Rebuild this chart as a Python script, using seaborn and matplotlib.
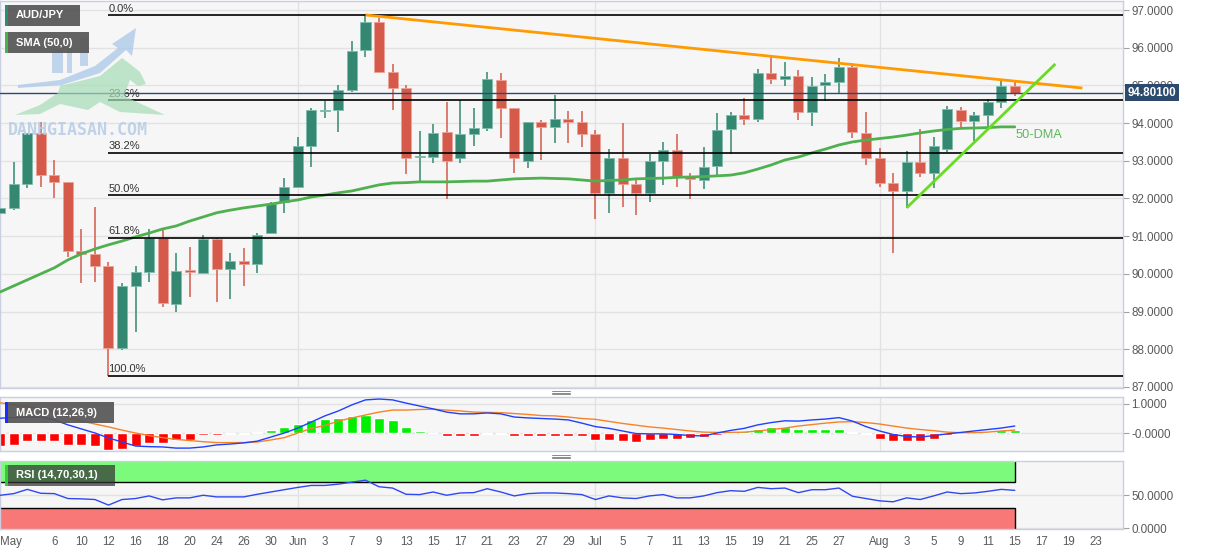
import numpy as np
import matplotlib
matplotlib.use("Agg")
import matplotlib.pyplot as plt
import seaborn as sns
from matplotlib.patches import Rectangle, Polygon
from matplotlib.lines import Line2D
import matplotlib.transforms as mtransforms

# ---------------- data ----------------
opens = [91.62, 91.75, 92.38, 93.74, 92.62, 92.44, 90.61, 90.53, 90.21, 88.03,
         89.68, 90.05, 90.95, 89.20, 90.10, 90.02, 90.93, 90.13, 90.34, 90.26,
         91.08, 91.91, 92.31, 93.39, 94.33, 94.35, 94.88, 95.94, 96.68, 95.36,
         94.93, 93.09, 93.10, 93.76, 93.07, 93.71, 93.87, 95.14, 94.40, 92.99,
         94.03, 93.90, 94.11, 94.03, 93.71, 92.15, 93.07, 92.38, 92.15, 92.99,
         93.29, 92.60, 92.49, 92.86, 93.84, 94.21, 94.11, 95.33, 95.17, 95.25,
         94.29, 95.01, 95.09, 95.49, 93.74, 93.07, 92.41, 92.20, 92.97, 92.68,
         93.31, 94.35, 94.06, 94.21, 94.56, 94.98]
closes = [91.75, 92.38, 93.74, 92.62, 92.44, 90.61, 90.53, 90.21, 88.03, 89.68,
          90.05, 90.95, 89.23, 90.08, 90.05, 90.93, 90.13, 90.34, 90.26, 91.03,
          91.85, 92.31, 93.39, 94.35, 94.36, 94.88, 95.91, 96.68, 95.36, 94.93,
          93.07, 93.11, 93.74, 92.99, 93.71, 93.87, 95.17, 94.40, 93.07, 94.03,
          93.90, 94.11, 94.03, 93.71, 92.15, 93.07, 92.38, 92.15, 92.99, 93.29,
          92.57, 92.52, 92.84, 93.82, 94.21, 94.11, 95.33, 95.17, 95.25, 94.29,
          94.98, 95.09, 95.49, 93.76, 93.07, 92.41, 92.20, 92.97, 92.68, 93.39,
          94.37, 94.06, 94.21, 94.56, 94.98, 94.80]
highs = [91.96, 92.97, 93.74, 94.03, 93.02, 92.44, 91.19, 91.77, 90.32, 89.76,
         90.21, 91.19, 91.19, 90.55, 90.71, 91.03, 90.95, 90.55, 90.69, 91.08,
         91.91, 92.54, 93.63, 94.40, 94.59, 95.01, 96.18, 96.89, 96.79, 95.57,
         95.01, 93.79, 93.98, 94.56, 94.61, 94.40, 95.36, 95.33, 94.40, 94.03,
         94.08, 94.75, 94.32, 94.32, 93.82, 93.31, 94.00, 92.54, 93.18, 93.50,
         93.71, 92.68, 93.37, 94.27, 94.29, 94.67, 95.43, 95.78, 95.62, 95.41,
         95.22, 95.30, 95.73, 95.59, 94.29, 93.34, 92.68, 93.26, 93.84, 93.63,
         94.45, 94.43, 94.29, 94.64, 95.14, 95.09]
lows = [91.56, 91.69, 92.28, 92.31, 92.01, 90.45, 89.76, 89.79, 87.30, 87.98,
        88.46, 89.79, 89.12, 88.99, 89.39, 90.02, 89.25, 89.33, 89.68, 90.02,
        91.08, 91.62, 92.31, 92.84, 94.14, 93.76, 94.82, 95.75, 95.33, 94.35,
        92.65, 92.44, 92.94, 91.99, 92.94, 93.39, 93.79, 93.60, 92.68, 92.81,
        93.02, 93.47, 93.47, 93.37, 91.46, 91.62, 91.77, 91.56, 91.91, 92.36,
        92.31, 91.99, 92.25, 92.62, 93.18, 93.95, 94.03, 95.04, 94.98, 94.08,
        93.92, 94.59, 94.77, 93.60, 92.89, 92.31, 90.55, 91.75, 92.57, 92.28,
        93.23, 93.90, 93.53, 93.87, 94.40, 94.72]
sma50 = [89.52, 89.68, 89.84, 90.00, 90.16, 90.37, 90.53, 90.66, 90.77, 90.87,
         90.98, 91.08, 91.19, 91.27, 91.40, 91.51, 91.62, 91.69, 91.75, 91.80,
         91.85, 91.91, 91.96, 92.04, 92.09, 92.15, 92.20, 92.28, 92.36, 92.41,
         92.42, 92.44, 92.44, 92.44, 92.45, 92.46, 92.46, 92.49, 92.52, 92.53,
         92.54, 92.53, 92.52, 92.49, 92.46, 92.48, 92.49, 92.52, 92.53, 92.54,
         92.56, 92.57, 92.58, 92.60, 92.62, 92.68, 92.78, 92.89, 93.02, 93.10,
         93.21, 93.31, 93.42, 93.50, 93.55, 93.59, 93.63, 93.68, 93.74, 93.79,
         93.83, 93.86, 93.87, 93.88, 93.90, 93.90]
macd_line = [0.51, 0.53, 0.55, 0.55, 0.45, 0.28, 0.14, 0.00, -0.17, -0.31,
             -0.45, -0.47, -0.48, -0.52, -0.52, -0.48, -0.41, -0.38, -0.34, -0.28,
             -0.14, 0.00, 0.17, 0.38, 0.59, 0.76, 0.97, 1.14, 1.17, 1.14,
             1.03, 0.93, 0.83, 0.72, 0.66, 0.66, 0.69, 0.66, 0.55, 0.52,
             0.50, 0.48, 0.45, 0.34, 0.22, 0.16, 0.07, -0.02, -0.03, -0.03,
             -0.05, -0.09, -0.10, 0.00, 0.09, 0.16, 0.28, 0.36, 0.42, 0.41,
             0.45, 0.48, 0.53, 0.41, 0.22, 0.07, -0.05, -0.12, -0.14, -0.09,
             -0.03, 0.02, 0.07, 0.12, 0.17, 0.24]
signal_line = [1.04, 0.97, 0.91, 0.83, 0.72, 0.55, 0.41, 0.31, 0.21, 0.10,
               0.00, -0.09, -0.16, -0.22, -0.26, -0.30, -0.33, -0.33, -0.33, -0.31,
               -0.24, -0.16, 0.00, 0.16, 0.26, 0.41, 0.52, 0.62, 0.72, 0.79,
               0.79, 0.81, 0.82, 0.79, 0.76, 0.72, 0.71, 0.70, 0.67, 0.64,
               0.60, 0.59, 0.55, 0.50, 0.47, 0.40, 0.33, 0.27, 0.21, 0.17,
               0.12, 0.07, 0.03, 0.02, 0.02, 0.03, 0.07, 0.12, 0.17, 0.24,
               0.29, 0.34, 0.38, 0.39, 0.36, 0.31, 0.24, 0.17, 0.12, 0.08,
               0.03, 0.01, 0.01, 0.03, 0.07, 0.10]
macd_hist = [-0.46, -0.42, -0.28, -0.28, -0.28, -0.42, -0.42, -0.46, -0.60, -0.54,
             -0.46, -0.34, -0.34, -0.23, -0.23, -0.08, -0.06, -0.05, -0.04, 0.03,
             0.11, 0.21, 0.32, 0.44, 0.47, 0.52, 0.57, 0.63, 0.53, 0.44,
             0.21, 0.06, -0.01, -0.10, -0.10, -0.10, -0.05, -0.04, -0.10, -0.10,
             -0.10, -0.10, -0.10, -0.11, -0.23, -0.23, -0.29, -0.31, -0.25, -0.20,
             -0.20, -0.17, -0.14, -0.06, 0.03, 0.07, 0.15, 0.21, 0.21, 0.15,
             0.15, 0.13, 0.15, 0.03, -0.05, -0.20, -0.28, -0.28, -0.28, -0.20,
             -0.08, -0.02, 0.01, 0.03, 0.11, 0.11]
rsi = [50, 52.5, 59, 53, 52.5, 45, 44.5, 43.5, 35, 43.5,
       45, 49, 43, 46, 46, 50, 47.5, 47.5, 47.5, 51.5,
       55, 58.5, 62, 65, 65, 67, 70, 73, 63, 61,
       51.5, 51, 55, 50, 53.5, 54, 60, 55, 49, 52.5,
       53.5, 53.5, 52.5, 51, 43.5, 49, 46, 45, 49, 51,
       46, 46, 49, 54, 57, 56, 62, 60, 61, 54,
       58.5, 58.5, 61, 48.5, 45, 41.5, 40, 46, 43.5, 49,
       55, 52.5, 53.5, 56, 59, 57.5]

tick_pos = [0, 4, 6, 8, 10, 12, 14, 16, 18, 20, 22, 24, 26, 28, 30, 32, 34, 36, 38, 40,
            42, 44, 46, 48, 50, 52, 54, 56, 58, 60, 62, 65, 67, 69, 71, 73, 75, 77, 79, 81]
tick_labels = ["May", "6", "10", "12", "16", "18", "20", "24", "26", "30", "Jun", "3", "7",
               "9", "13", "15", "17", "21", "23", "27", "29", "Jul", "5", "7", "11", "13",
               "15", "19", "21", "25", "27", "Aug", "3", "5", "9", "11", "15", "17", "19", "23"]
month_starts = [22, 44, 65]

fib_levels = [0.0, 23.6, 38.2, 50.0, 61.8, 100.0]
fib_labels = ["0.0%", "23.6%", "38.2%", "50.0%", "61.8%", "100.0%"]
swing_high, swing_low, swing_low_idx = 96.87, 87.30, 8
last_price = 94.801
resist_x, resist_y = [27, 80], [96.87, 94.93]
support_x, support_y = [67, 78], [91.75, 95.57]

# ---------------- figure ----------------
sns.set_theme(style="white")
plt.rcParams['font.family'] = ['Liberation Sans', 'DejaVu Sans']

W, H = 1207, 555
fig = plt.figure(figsize=(W / 100, H / 100), dpi=100)
fig.patch.set_facecolor('white')


def fx(x):
    return x / W


def fy(y):
    return 1 - y / H


PLOT_R = 1123
ax_main = fig.add_axes([0, fy(388), fx(PLOT_R), 387 / H])
ax_macd = fig.add_axes([0, fy(451), fx(PLOT_R), 54 / H])
ax_rsi = fig.add_axes([0, fy(529), fx(PLOT_R), 68 / H])

idx = np.arange(len(closes))
XL = (-0.02, 83.0)
tick_color = '#5a5a5a'

for ax in (ax_main, ax_macd, ax_rsi):
    ax.set_facecolor('#f6f6f6')
    ax.set_xlim(*XL)
    for s in ax.spines.values():
        s.set_color('#c9cfe0')
        s.set_linewidth(1.0)
    ax.yaxis.tick_right()
    ax.tick_params(axis='y', right=True, left=False, labelright=True, labelleft=False,
                   length=4, width=0.8, color='#a0a0a0', pad=2, labelsize=8.4,
                   labelcolor=tick_color)
    ax.grid(axis='y', color='#e2e2e2', lw=1)
    ax.grid(axis='x', visible=False)
    for m in month_starts:
        ax.axvline(m, color='#e2e2e2', lw=1, zorder=0)

# ---------------- main panel ----------------
ax_main.set_ylim(86.97, 97.24)
yt = list(range(87, 98))
ax_main.set_yticks(yt)
ax_main.set_yticklabels([f"{v:.4f}" for v in yt])
ax_main.set_xticks([])

green, red = '#348872', '#d55a49'
green_e, red_e = '#7fbcae', '#eba398'
for i in idx:
    o, c, h, l = opens[i], closes[i], highs[i], lows[i]
    up = c >= o
    col = green if up else red
    ax_main.vlines(i, l, h, color=col, lw=1.1, zorder=2)
    body = max(abs(c - o), 0.03)
    ax_main.bar(i, body, bottom=min(o, c), width=0.74, color=col,
                edgecolor=green_e if up else red_e, linewidth=0.6, zorder=3)

sns.lineplot(x=idx, y=sma50, ax=ax_main, color='#4fb04f', lw=2, zorder=4, legend=False)

for lev, lab in zip(fib_levels, fib_labels):
    p = swing_high - lev / 100 * (swing_high - swing_low)
    ax_main.hlines(p, swing_low_idx, XL[1] + 2, color='black', lw=1.2, zorder=5)
    ax_main.annotate(lab, (swing_low_idx, p), xytext=(0, 1), textcoords='offset points',
                     ha='left', va='bottom', fontsize=8, color='#333333', zorder=6)

ax_main.axhline(last_price, color='#2c4a70', lw=1, zorder=5)
ax_main.plot(resist_x, resist_y, color='#ff9a00', lw=2, zorder=6, solid_capstyle='butt')
ax_main.plot(support_x, support_y, color='#66dd1e', lw=2, zorder=6, solid_capstyle='butt')
ax_main.text(75.05, 93.68, "50-DMA", color='#5bb85b', fontsize=9.2, ha='left', va='center', zorder=6)

trans = mtransforms.blended_transform_factory(ax_main.transAxes, ax_main.transData)
ax_main.text(1.004, last_price, "94.80100", transform=trans, ha='left', va='center',
             fontsize=8.4, fontweight='bold', color='white', zorder=10, clip_on=False,
             bbox=dict(boxstyle='square,pad=0.22', fc='#2c4a6e', ec='none'))
ax_main.set_xlabel('')
ax_main.set_ylabel('')

# ---------------- MACD panel ----------------
ax_macd.set_ylim(-0.62, 1.24)
ax_macd.set_yticks([0, 1])
ax_macd.set_yticklabels(['-0.0000', '1.0000'])
ax_macd.set_xticks([])
hist_cols = ['#00ee00' if v >= 0 else '#ff0000' for v in macd_hist]
ax_macd.bar(idx, macd_hist, width=0.74, color=hist_cols, zorder=2)
sns.lineplot(x=idx, y=signal_line, ax=ax_macd, color='#f5832a', lw=1, zorder=3, legend=False)
sns.lineplot(x=idx, y=macd_line, ax=ax_macd, color='#2040ff', lw=1, zorder=4, legend=False)
ax_macd.set_xlabel('')
ax_macd.set_ylabel('')

# ---------------- RSI panel ----------------
ax_rsi.set_ylim(-1.5, 102.3)
ax_rsi.set_yticks([0, 50])
ax_rsi.set_yticklabels(['0.0000', '50.0000'])
ax_rsi.add_patch(Rectangle((-1, 70), 76, 40, fc='#7cfa7c', ec='black', lw=1, zorder=1))
ax_rsi.add_patch(Rectangle((-1, -10), 76, 40, fc='#f87878', ec='black', lw=1, zorder=1))
sns.lineplot(x=idx, y=rsi, ax=ax_rsi, color='#3048f0', lw=1, zorder=3, legend=False)
ax_rsi.set_xlabel('')
ax_rsi.set_ylabel('')
ax_rsi.set_xticks(tick_pos)
ax_rsi.set_xticklabels(tick_labels)
ax_rsi.tick_params(axis='x', bottom=False, length=0, pad=5, labelsize=8.3, labelcolor=tick_color)
for t in ax_rsi.get_xticklabels():
    if t.get_text() == 'May':
        t.set_ha('left')
ax_rsi.set_xlim(*XL)

# ---------------- separators with handles ----------------
for y0 in (392.5, 456.5):
    for dy in (-1.5, 0, 1.5):
        fig.add_artist(Line2D([fx(552), fx(570)], [fy(y0 + dy), fy(y0 + dy)],
                              color='#8a8a8a', lw=0.7))

# ---------------- label boxes ----------------
def label_box(x0, y0, x1, y1, strip, text, fc='#555555', alpha=0.92):
    fig.add_artist(Rectangle((fx(x0), fy(y1)), fx(x1 - x0), (y1 - y0) / H,
                             transform=fig.transFigure, fc=fc, alpha=alpha, ec='none', zorder=20))
    fig.add_artist(Rectangle((fx(x0), fy(y1)), fx(2.5), (y1 - y0) / H,
                             transform=fig.transFigure, fc=strip, ec='none', zorder=21))
    fig.text(fx(x0 + 11), fy((y0 + y1) / 2), text, color='white', fontsize=8,
             fontweight='bold', ha='left', va='center', zorder=22)


label_box(5, 5, 80, 26, '#2e8b7a', 'AUD/JPY')
label_box(5, 32, 89, 53, '#4caf50', 'SMA (50,0)')
label_box(5, 402, 114, 423, '#1a2cff', 'MACD (12,26,9)')
label_box(5, 465, 115, 486, '#33cc33', 'RSI (14,70,30,1)', fc='#333333', alpha=0.72)

# ---------------- watermark ----------------
def px_poly(pts, **kw):
    return Polygon([(fx(x), fy(y)) for x, y in pts], closed=True,
                   transform=fig.transFigure, **kw)


for (x0, y0, x1, y1) in [(52, 50, 63, 73), (67, 38, 72, 73), (80, 37, 88, 66)]:
    fig.add_artist(px_poly([(x0, y0), (x1, y0), (x1, y1), (x0, y1)],
                           fc='#a9c8e8', ec='none', alpha=0.7, zorder=15))
fig.add_artist(px_poly([(18, 85), (60, 80), (95, 66), (118, 48), (112, 44), (136, 28),
                        (132, 56), (126, 50), (100, 73), (62, 85), (18, 88)],
                       fc='#a9c8e8', ec='none', alpha=0.75, zorder=15))
fig.add_artist(px_poly([(15, 115), (40, 105), (58, 93), (60, 86), (100, 76), (122, 58),
                        (130, 64), (140, 72), (146, 84), (138, 86), (130, 80), (124, 96),
                        (165, 115), (120, 112), (100, 102), (88, 110), (60, 104), (40, 114)],
                       fc='#a6dcb6', ec='none', alpha=0.7, zorder=15))
fig.text(fx(8), fy(130), "DANHGIASAN.COM", family='DejaVu Sans Mono', fontsize=12,
         fontweight='bold', color='#b6cce6', alpha=0.85, ha='left', va='center', zorder=15)

fig.savefig('out.png', dpi=100, facecolor='white')
